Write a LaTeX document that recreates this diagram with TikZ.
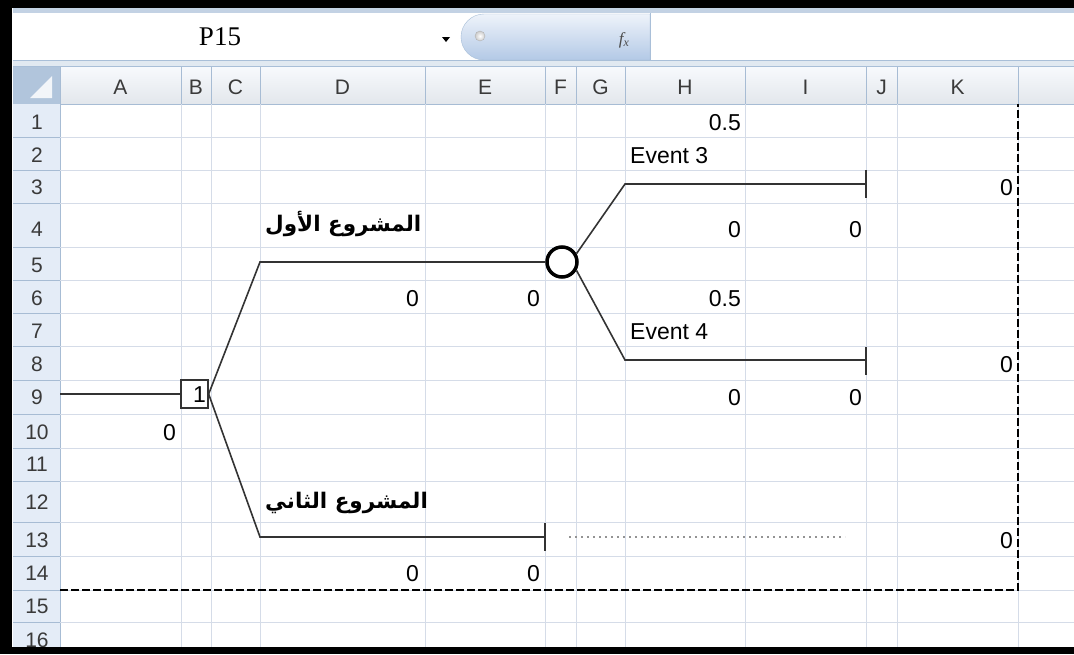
\documentclass[tikz,border=0pt]{standalone}
\usepackage{fontspec}
\setmainfont{Liberation Sans}
\newfontfamily\namefont{Liberation Serif}
\newfontfamily\arabicfont[Script=Arabic]{DejaVu Sans}
\TeXXeTstate=1
\definecolor{gridc}{HTML}{D5DCE8}
\definecolor{hdrline}{HTML}{A7BCD4}
\definecolor{hdrfill}{HTML}{E4ECF7}
\definecolor{hdrtext}{HTML}{3A3A3A}
\definecolor{branchc}{HTML}{333333}
\definecolor{barline}{HTML}{A9BFD8}
\definecolor{pilltop}{HTML}{EEF3FA}
\definecolor{pillbot}{HTML}{B3C9E6}
\tikzset{
  gridline/.style={draw=gridc, line width=1pt},
  hdrsep/.style={draw=hdrline, line width=1pt},
  hdrtxt/.style={font=\fontsize{21}{24}\selectfont, text=hdrtext, anchor=base, inner sep=0},
  val/.style={font=\fontsize{23}{27}\selectfont, anchor=base east, inner sep=0},
  lbl/.style={font=\fontsize{23}{27}\selectfont, anchor=base west, inner sep=0},
  branch/.style={draw=branchc, line width=1.6pt},
  endtick/.style={draw=branchc, line width=1.6pt},
  arlbl/.style={font=\arabicfont\bfseries\fontsize{21.5}{25}\selectfont, anchor=west, inner sep=0},
  decbox/.style={draw=branchc, line width=1.3pt, fill=white, minimum width=27pt, minimum height=28pt, inner sep=0},
  chance/.style={circle, draw=black, line width=3.5pt, fill=white, minimum size=30pt, inner sep=0},
  dashline/.style={draw=black, line width=1.8pt, dash pattern=on 8pt off 3pt},
  dotline/.style={draw=gray!85, line width=1.2pt, dash pattern=on 2pt off 4pt},
}
\begin{document}
\begin{tikzpicture}[x=1pt,y=-1pt]
\useasboundingbox (0,0) rectangle (1074,654);
\fill[white] (0,0) rectangle (1074,654);

% ---- formula bar ----
\fill[barline!70] (13,8) rectangle (1074,13);
\fill[white] (13,13) rectangle (1074,60);
\node[font=\namefont\fontsize{27}{30}\selectfont, inner sep=0] (cellref) at (220,37) {P15};
\fill[black] (442,37) -- (450,37) -- (446,42) -- cycle;
\path[top color=pilltop, bottom color=pillbot, draw=barline]
  (650,14) -- (484,14) arc[start angle=270, end angle=90, radius=23] -- (650,60) -- cycle;
\shade[inner color=white, outer color=gray!40, draw=gray!60] (480,36) circle[radius=5];
\node[font=\namefont\itshape\fontsize{17}{20}\selectfont, text=black!70, inner sep=0] (fx) at (624,40)
  {f\raisebox{-2pt}{\fontsize{12}{12}\selectfont x}};
\draw[barline] (650,13) -- (650,60);
\fill[barline!35] (13,60) rectangle (1074,67);
\draw[barline] (13,60.5) -- (1074,60.5);
\draw[barline] (13,66.5) -- (1074,66.5);

% ---- column header row ----
\shade[top color=white!70!hdrfill, bottom color=hdrfill!80!gray!60] (60,67) rectangle (1074,104);
\fill[barline!90] (13,67) rectangle (60,104);
\fill[white!85!barline] (52,76) -- (52,98) -- (30,98) -- cycle;
\draw[hdrsep] (13,104) -- (1074,104);

% ---- row header column ----
\fill[hdrfill] (13,104) rectangle (60,654);
\draw[hdrsep] (60,67) -- (60,654);

% ---- grid ----
\foreach \yy in {137,170,203,247,280,313,346,380,414,448,481,522,556,590,622} {
  \draw[gridline] (60,\yy) -- (1074,\yy);
  \draw[hdrsep] (13,\yy) -- (60,\yy);
}
\foreach \xx in {181,211,260,425,545,576,625,745,866,897,1018} {
  \draw[gridline] (\xx,104) -- (\xx,654);
  \draw[hdrsep] (\xx,67) -- (\xx,104);
}

% column letters
\foreach \cl/\cx in {A/120.5,B/196,C/235.5,D/342.5,E/485,F/560.5,G/600.5,H/685,I/805.5,J/881.5,K/957.5}
  \node[hdrtxt] (col\cl) at (\cx,94.5) {\cl};
% row numbers
\foreach \rn/\ry in {1/122,2/155,3/187,4/229,5/265,6/298,7/331,8/364,9/397,10/432,11/464,12/502,13/540,14/573,15/606,16/640}
  \node[hdrtxt] (row\rn) at (37,\ry+7.5) {\rn};

% ---- decision tree ----
\coordinate (root) at (60,394);
\node[decbox] (dec) at (194.5,394) {};
\node[chance] (ch) at (562,262) {};
\coordinate (a1) at (260,262);
\coordinate (b1) at (260,537);
\coordinate (b2) at (545,537);
\coordinate (u1) at (625,184);
\coordinate (u2) at (866,184);
\coordinate (l1) at (625,360);
\coordinate (l2) at (866,360);

\draw[branch] (root) -- (dec.west);
\draw[branch] (dec.east) -- (a1) -- (ch.west);
\draw[branch] (dec.east) -- (b1) -- (b2);
\draw[branch] (ch.30) -- (u1) -- (u2);
\draw[branch] (ch.-30) -- (l1) -- (l2);
\draw[endtick] (866,170) -- (866,198);
\draw[endtick] (866,347) -- (866,375);
\draw[endtick] (545,523) -- (545,551);
\coordinate (d1) at (569,537);
\coordinate (d2) at (845,537);
\draw[dotline] (d1) -- (d2);

% summary frame
\coordinate (f1) at (60,590);
\coordinate (f2) at (1018,590);
\coordinate (f3) at (1018,104);
\draw[dashline] (f1) -- (f2) -- (f3);

% ---- cell texts ----
\node[val] (dectxt) at (206,402) {1};
\node[val] (h1) at (741,130) {0.5};
\node[lbl] (ev3) at (630,163) {Event 3};
\node[val] (k3) at (1013,195) {0};
\node[val] (h4) at (741,237) {0};
\node[val] (i4) at (862,237) {0};
\node[val] (d6) at (419,306) {0};
\node[val] (e6) at (540,306) {0};
\node[val] (h6) at (741,306) {0.5};
\node[lbl] (ev4) at (630,339) {Event 4};
\node[val] (k8) at (1013,372) {0};
\node[val] (h9) at (741,405) {0};
\node[val] (i9) at (862,405) {0};
\node[val] (a10) at (176,440) {0};
\node[val] (k13) at (1013,548) {0};
\node[val] (d14) at (419,581) {0};
\node[val] (e14) at (540,581) {0};
\node[arlbl] (proj1) at (265,224) {\beginR المشروع الأول\endR};
\node[arlbl] (proj2) at (265,503) {\beginR المشروع الثاني\endR};

% ---- window frame ----
\fill[black] (0,0) rectangle (1074,8);
\fill[black] (0,0) rectangle (12,654);
\fill[black] (0,647) rectangle (1074,654);
\end{tikzpicture}
\end{document}
